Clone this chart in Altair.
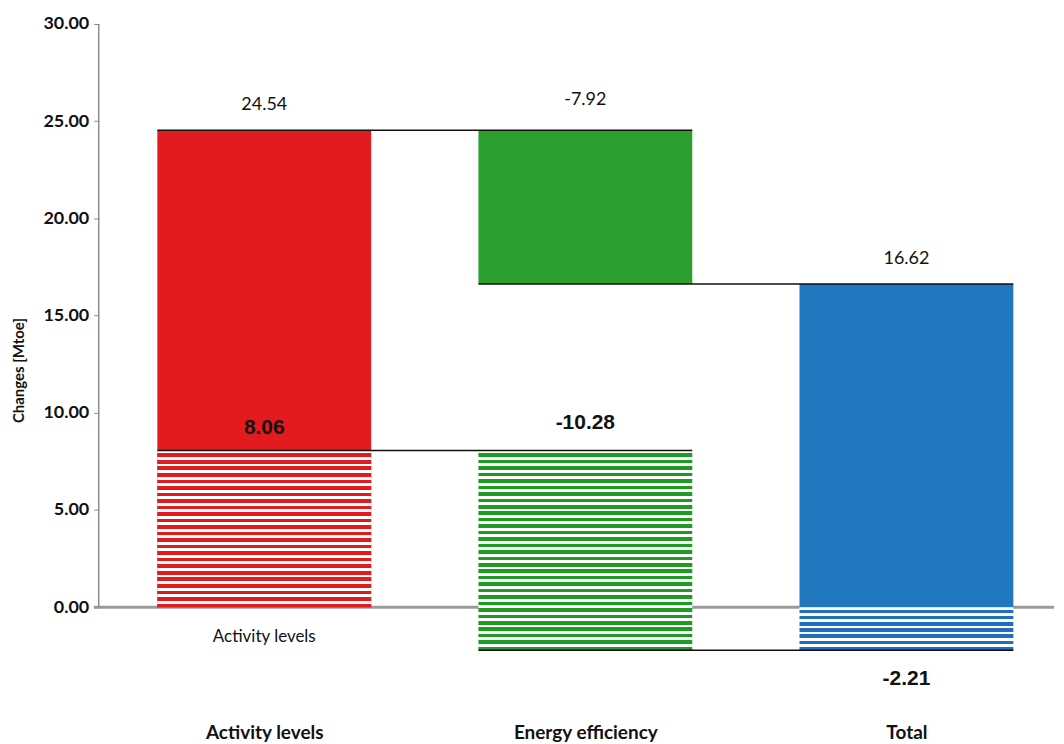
import json
import altair as alt
import pandas as pd

# ---- data ----
categories = ["Activity levels", "Energy efficiency", "Total"]
solid_values = [24.54, -7.92, 16.62]      # full decomposition (last = total)
hatched_values = [8.06, -10.28, -2.21]    # hatched decomposition (last = total)
y_ticks = [0, 5, 10, 15, 20, 25, 30]

# ---- styling constants ----
HW = 0.333               # half bar width in category units
STRIPE_PERIOD = 0.335    # stripe period in data units
solid_colors = ["#E31B1F", "#2CA02F", "#2278BE"]
stripe_colors = ["#E31B1F", "#1F9A22", "#1E6FC0"]
FONT = "Lato"


def waterfall(values):
    rows, running = [], 0.0
    for i, v in enumerate(values):
        if i < len(values) - 1:
            start, end = running, running + v
            running = end
        else:
            start, end = 0.0, v
        rows.append({"idx": i, "cat": categories[i], "start": start, "end": end, "value": v})
    return pd.DataFrame(rows)


solid_df = waterfall(solid_values)
hatched_df = waterfall(hatched_values)


def connectors(df):
    rows = []
    for i in range(len(df) - 1):
        rows.append({"from": i, "to": i + 1, "level": df.loc[i, "end"]})
    return pd.DataFrame(rows)


conn_df = pd.concat([connectors(solid_df), connectors(hatched_df)], ignore_index=True)


def stripes(color, n):
    stops = []
    for k in range(n):
        a, m, c = k / n, (k + 0.45) / n, (k + 1) / n
        stops += [
            {"offset": a, "color": "#ffffff"},
            {"offset": m, "color": "#ffffff"},
            {"offset": m, "color": color},
            {"offset": c, "color": color},
        ]
    return {"gradient": "linear", "x1": 0, "x2": 0, "y1": 0, "y2": 1, "stops": stops}


W = 958
x_min = -0.5155
x_scale = alt.Scale(domain=[x_min, x_min + W / 322], nice=False, zero=False)
y_scale = alt.Scale(domain=[-5.6, 30], nice=False, zero=False)

label_expr = json.dumps(categories) + "[datum.value]"
x_axis = alt.Axis(values=list(range(len(categories))), labelExpr=label_expr, domain=False,
                  ticks=False, grid=False, title=None, labelFont=FONT, labelFontWeight="bold",
                  labelFontSize=19, labelColor="#111", labelPadding=8)
y_axis = alt.Axis(values=y_ticks, format=".2f", domain=False, grid=False, tickColor="#888",
                  tickSize=5, labelFont=FONT, labelFontWeight="bold", labelFontSize=18,
                  labelColor="#111", labelPadding=5, title="Changes [Mtoe]", titleFont=FONT,
                  titleFontSize=15, titleFontWeight="bold", titleColor="#111", titlePadding=16)

base_x = alt.X("x0:Q", scale=x_scale, axis=x_axis)

# axis line 0..30 and the zero line
axis_line = alt.Chart(pd.DataFrame({"lo": [min(y_ticks)], "hi": [max(y_ticks)]})).mark_rule(
    color="#8c8c8c", strokeWidth=1.5).encode(
    x=alt.value(0), y=alt.Y("lo:Q", scale=y_scale, axis=y_axis), y2="hi:Q")

zero_line = alt.Chart(pd.DataFrame({"z": [min(y_ticks)]})).mark_rule(
    color="#9a9a9a", strokeWidth=3).encode(
    x=alt.value(-5), x2=alt.value(W), y=alt.Y("z:Q", scale=y_scale))

layers = [zero_line]

# solid bars
for i in range(len(categories)):
    layers.append(
        alt.Chart(solid_df[solid_df.idx == i]).transform_calculate(
            x0=f"datum.idx - {HW}", x1=f"datum.idx + {HW}"
        ).mark_bar(color=solid_colors[i]).encode(
            x=base_x, x2="x1:Q", y=alt.Y("start:Q", scale=y_scale), y2="end:Q")
    )

# hatched bars
for i in range(len(categories)):
    h = abs(hatched_df.loc[i, "end"] - hatched_df.loc[i, "start"])
    n = max(1, round(h / STRIPE_PERIOD))
    layers.append(
        alt.Chart(hatched_df[hatched_df.idx == i]).transform_calculate(
            x0=f"datum.idx - {HW}", x1=f"datum.idx + {HW}"
        ).mark_bar(color=stripes(stripe_colors[i], n)).encode(
            x=base_x, x2="x1:Q", y=alt.Y("start:Q", scale=y_scale), y2="end:Q")
    )

# connector lines
layers.append(
    alt.Chart(conn_df).transform_calculate(
        x0=f"datum['from'] - {HW}", x1=f"datum.to + {HW}"
    ).mark_rule(color="#111", strokeWidth=1.5).encode(
        x=base_x, x2="x1:Q", y=alt.Y("level:Q", scale=y_scale))
)

layers.append(axis_line)


def text_layer(text, idx, y, dy, size, bold, font):
    df = pd.DataFrame({"t": [text], "idx": [idx], "y": [y]})
    return alt.Chart(df).transform_calculate(x0="datum.idx").mark_text(
        dy=dy, fontSize=size, fontWeight="bold" if bold else "normal", font=font,
        color="#111", align="center", baseline="middle").encode(
        x=base_x, y=alt.Y("y:Q", scale=y_scale), text="t:N")


# value labels of the solid decomposition
layers.append(text_layer(f"{solid_values[0]:.2f}", 0, solid_df.loc[0, "end"], -25, 18, False, FONT))
layers.append(text_layer(f"{solid_values[1]:.2f}", 1, solid_df.loc[0, "end"], -30, 18, False, FONT))
layers.append(text_layer(f"{solid_values[2]:.2f}", 2, solid_df.loc[2, "end"], -25, 18, False, FONT))
# value labels of the hatched decomposition
layers.append(text_layer(f"{hatched_values[0]:.2f}", 0, hatched_df.loc[0, "end"], -23, 21, True, "Liberation Sans"))
layers.append(text_layer(f"{hatched_values[1]:.2f}", 1, hatched_df.loc[0, "end"], -28, 21, True, "Liberation Sans"))
layers.append(text_layer(f"{hatched_values[2]:.2f}", 2, hatched_df.loc[2, "end"], 29, 21, True, "Liberation Sans"))
# stray category label under the first bar
layers.append(text_layer(categories[0], 0, 0, 30, 17, False, FONT))

chart = alt.layer(*layers).properties(
    width=W, height=694, background="white",
    padding={"left": 3, "top": 6, "right": 0, "bottom": 0},
).configure_view(strokeWidth=0)

chart.save("out.html", embed_options={"renderer": "svg", "actions": False})
